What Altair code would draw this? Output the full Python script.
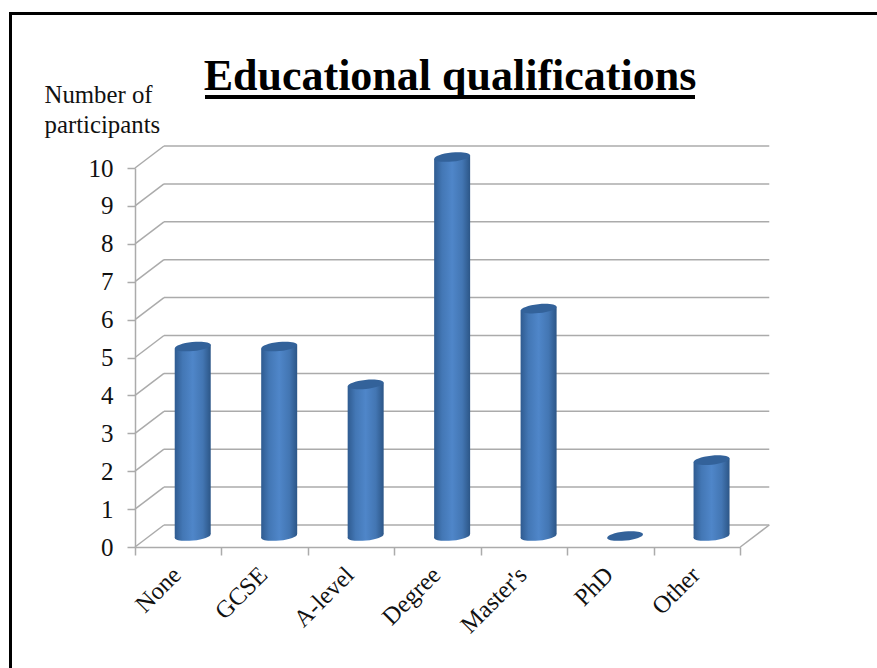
import altair as alt
import pandas as pd

categories = ["None", "GCSE", "A-level", "Degree", "Master's", "PhD", "Other"]
participants = [5, 5, 4, 10, 6, 0, 2]
value_ticks = list(range(11))

# Plot-area size and the pseudo-3D construction, in scale units.
PLOT_W, PLOT_H = 605.3, 379
PAD = {"left": 135, "top": 168, "right": 877 - 135 - PLOT_W, "bottom": 668 - 168 - PLOT_H}
DEPTH_X, DEPTH_Y = 0.335, 0.58      # front plane to back wall
MID_X, MID_Y = DEPTH_X / 2, DEPTH_Y / 2
HALF_W = 18 / (PLOT_W / 7)          # cylinder half width
TILT = 1.9 / (PLOT_H / 10)          # rise of the cylinder ends across the half width

GRID = "#ababab"
x_scale = alt.Scale(domain=[0, 7], nice=False, zero=False)
y_scale = alt.Scale(domain=[0, 10], nice=False, zero=False)

# Axes carry the tick labels; the value axis sits on the front plane.
label_lookup = "[" + ",".join('"%s"' % c for c in categories) + ',""][datum.value]'
x_axis = alt.Axis(
    values=list(range(8)), title=None, grid=False, labelExpr=label_lookup,
    labelAngle=315, labelAlign="right", labelBaseline="middle",
    labelOffset=42, labelPadding=16, labelFont="Liberation Serif", labelFontSize=24.5,
    labelColor="#111111", labelOverlap=False, labelFlush=False, labelBound=False,
    domainColor=GRID, domainWidth=1.5, tickColor=GRID, tickWidth=1.5, tickSize=8,
)
y_axis = alt.Axis(
    values=value_ticks, format="d", grid=False,
    title=["Number of", "participants"], titleAngle=0, titleAlign="left",
    titleBaseline="alphabetic", titleX=-91, titleY=-66, titleLineHeight=30,
    titleFont="Liberation Serif", titleFontSize=24.8, titleFontWeight="normal",
    titleColor="#111111",
    labelFont="Liberation Serif", labelFontSize=25, labelColor="#111111",
    labelPadding=14, labelOverlap=False, labelFlush=False, labelBound=False,
    domainColor=GRID, domainWidth=1.5, tickColor=GRID, tickWidth=1.5, tickSize=8,
)
X_POS = alt.X("x0:Q", scale=x_scale, axis=x_axis)
Y_POS = alt.Y("y0:Q", scale=y_scale, axis=y_axis)

grid_df = pd.DataFrame({
    "x0": [DEPTH_X] * len(value_ticks),
    "x1": [7 + DEPTH_X] * len(value_ticks),
    "y0": [v + DEPTH_Y for v in value_ticks],
})
wall = alt.Chart(grid_df).mark_rule(color=GRID, strokeWidth=1.5).encode(
    x=X_POS, x2="x1:Q", y=Y_POS
)

side_df = pd.DataFrame({
    "x0": [0] * len(value_ticks) + [7],
    "x1": [DEPTH_X] * len(value_ticks) + [7 + DEPTH_X],
    "y0": value_ticks + [0],
    "y1": [v + DEPTH_Y for v in value_ticks] + [DEPTH_Y],
})
sides = alt.Chart(side_df).mark_rule(color=GRID, strokeWidth=1.5).encode(
    x=X_POS, x2="x1:Q", y=Y_POS, y2="y1:Q"
)

# Cylinders: base ellipse, body, cap.
bar_shade = alt.Gradient(
    gradient="linear", x1=0, x2=1, y1=0, y2=0,
    stops=[
        alt.GradientStop(color="#2f5b90", offset=0),
        alt.GradientStop(color="#4377b5", offset=0.22),
        alt.GradientStop(color="#4f86c9", offset=0.5),
        alt.GradientStop(color="#4376b3", offset=0.78),
        alt.GradientStop(color="#2c5687", offset=1),
    ],
)
ELLIPSE = "M-1,0A1,0.25 0 1,1 1,0A1,0.25 0 1,1 -1,0Z"
ELLIPSE_SIZE = 1296

centers = [i + 0.5 + MID_X for i in range(len(categories))]
ends_df = pd.DataFrame({
    "category": categories,
    "x0": centers,
    "y0": [MID_Y] * len(categories),
    "top": [v + MID_Y for v in participants],
})
base = alt.Chart(ends_df).mark_point(
    shape=ELLIPSE, size=ELLIPSE_SIZE, angle=354, filled=True, fill=bar_shade, opacity=1, stroke=None
).transform_filter("datum.top > datum.y0").encode(x=X_POS, y=Y_POS)

body_rows = []
for name, cx, v in zip(categories, centers, participants):
    if v > 0:
        for side in (-1, 1):
            body_rows.append({
                "category": name,
                "x0": cx + side * HALF_W,
                "y0": v + MID_Y + side * TILT,
                "y1": MID_Y + side * TILT,
            })
body = alt.Chart(pd.DataFrame(body_rows)).mark_area(orient="vertical", color=bar_shade).encode(
    x=X_POS,
    y=alt.Y("y0:Q", scale=y_scale, axis=y_axis, stack=None),
    y2="y1:Q",
    detail="category:N",
)

cap = alt.Chart(ends_df).mark_point(
    shape=ELLIPSE, size=ELLIPSE_SIZE, angle=354, filled=True, fill="#33629a", opacity=1, stroke=None
).encode(x=X_POS, y=alt.Y("top:Q", scale=y_scale, axis=y_axis))

# Heading with its underline, and the slide's frame along the top and left edges.
anchor = pd.DataFrame({"label": ["Educational qualifications"]})
title = alt.Chart(anchor).mark_text(
    font="Liberation Serif", fontSize=44, fontWeight="bold", color="#000000",
    align="center", baseline="alphabetic",
).encode(x=alt.value(315), y=alt.value(-78), text="label:N")
underline = alt.Chart(anchor).mark_rule(color="#000000", strokeWidth=4).encode(
    x=alt.value(70), x2=alt.value(560), y=alt.value(-71)
)
frame_top = alt.Chart(anchor).mark_rule(color="#000000", strokeWidth=3).encode(
    x=alt.value(-126), x2=alt.value(742), y=alt.value(-154.5)
)
frame_left = alt.Chart(anchor).mark_rule(color="#000000", strokeWidth=3).encode(
    x=alt.value(-124.5), y=alt.value(-156), y2=alt.value(500)
)

chart = alt.layer(
    wall, sides, base, body, cap, title, underline, frame_top, frame_left
).properties(
    width=PLOT_W, height=PLOT_H,
    padding=PAD,
    autosize=alt.AutoSizeParams(type="none"),
    background="#ffffff",
).configure_view(stroke=None)

chart.save("out.html", embed_options={"renderer": "svg", "actions": False})
